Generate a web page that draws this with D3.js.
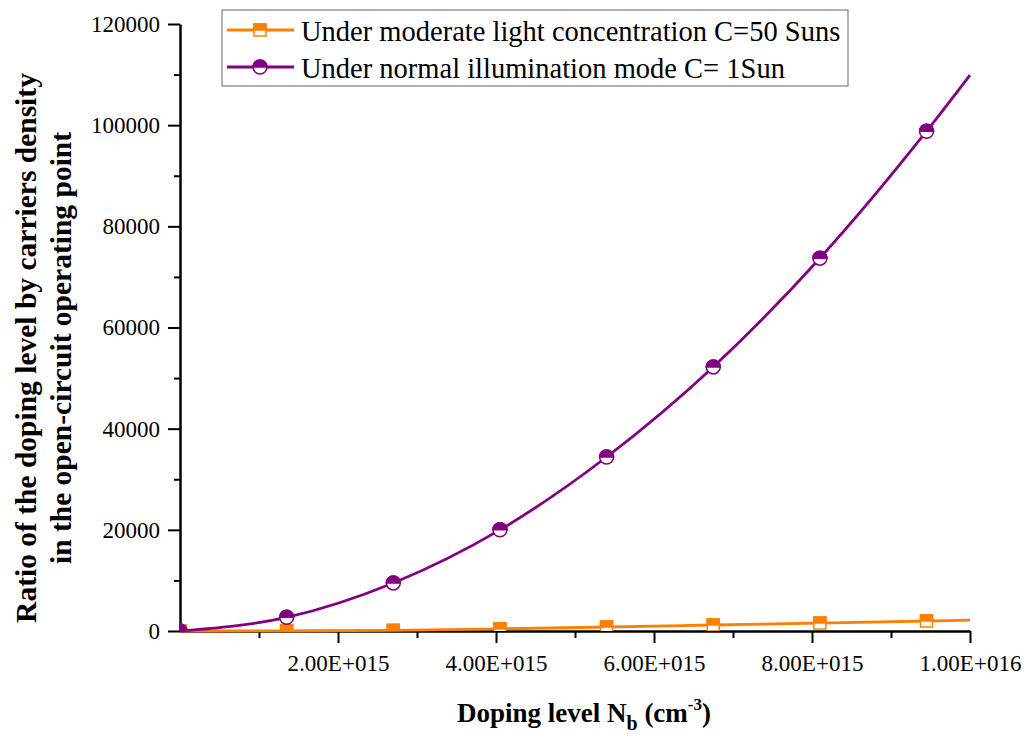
<!DOCTYPE html>
<html>
<head>
<meta charset="utf-8">
<script src="https://cdn.jsdelivr.net/npm/d3@7"></script>
<style>
  body { margin: 0; background: #fff; }
</style>
</head>
<body>
<div id="chart"></div>
<script>
// Doping level values (cm^-3) where the curves were read
const dopingLevels = [0, 1.35e15, 2.7e15, 4.05e15, 5.4e15, 6.75e15, 8.1e15, 9.45e15, 1.0e16];
// Ratio under normal illumination C = 1 Sun
const ratioOneSun = [0, 2700, 9500, 20000, 34400, 52200, 73700, 98800, 109900];
// Ratio under light concentration C = 50 Suns
const ratioFiftySuns = [0, 40, 130, 420, 790, 1190, 1580, 1980, 2150];
// markers sit on the first 8 read points (the last one is the curve end)
const markerCount = 8;

const xTicks = [2e15, 4e15, 6e15, 8e15, 1e16];
const xTickLabels = ["2.00E+015", "4.00E+015", "6.00E+015", "8.00E+015", "1.00E+016"];
const yTicks = [0, 20000, 40000, 60000, 80000, 100000, 120000];

const seriesNames = [
  "Under moderate light concentration C=50 Suns",
  "Under normal illumination mode C= 1Sun",
];
const orange = "#ff8000";
const purple = "#800080";
const serif = "Liberation Serif";

const width = 1034;
const height = 743;
const margin = { top: 24, right: 64, bottom: 112, left: 180 };
const innerW = width - margin.left - margin.right;
const innerH = height - margin.top - margin.bottom;

const svg = d3
  .select("#chart")
  .append("svg")
  .attr("width", width)
  .attr("height", height);

const g = svg.append("g").attr("transform", `translate(${margin.left},${margin.top})`);

svg.append("defs").append("clipPath").attr("id", "plot-clip")
  .append("rect").attr("x", 0).attr("y", -10).attr("width", innerW + 10).attr("height", innerH + 10);

const x = d3.scaleLinear().domain([0, 1e16]).range([0, innerW]);
const y = d3.scaleLinear().domain([0, 120000]).range([innerH, 0]);

// minor ticks
g.append("g")
  .attr("transform", `translate(0,${innerH})`)
  .call(d3.axisBottom(x).tickValues(d3.range(1, 10, 2).map((d) => d * 1e15)).tickSize(7).tickFormat(""))
  .call((a) => a.select(".domain").remove())
  .selectAll("line").attr("stroke-width", 2);

g.append("g")
  .call(d3.axisLeft(y).tickValues(d3.range(1, 12, 2).map((d) => d * 10000)).tickSize(6).tickFormat(""))
  .call((a) => a.select(".domain").remove())
  .selectAll("line").attr("stroke-width", 2);

// major axes
const xAxis = g
  .append("g")
  .attr("transform", `translate(0,${innerH})`)
  .call(d3.axisBottom(x).tickValues(xTicks).tickSize(12).tickSizeOuter(0).tickPadding(12)
    .tickFormat((d, i) => xTickLabels[i]));
xAxis.select(".domain").attr("stroke-width", 2.5);
xAxis.selectAll("line").attr("stroke-width", 2);
xAxis.selectAll("text")
  .style("font-family", serif).style("font-size", "23px").attr("fill", "#000");

const yAxis = g
  .append("g")
  .call(d3.axisLeft(y).tickValues(yTicks).tickSize(12).tickSizeOuter(0).tickPadding(8)
    .tickFormat(d3.format("d")));
yAxis.select(".domain").attr("stroke-width", 2.5);
yAxis.selectAll("line").attr("stroke-width", 2);
yAxis.selectAll("text")
  .style("font-family", serif).style("font-size", "23px").attr("fill", "#000");

// lines
const series = [
  { name: seriesNames[0], values: ratioFiftySuns, color: orange, shape: "square" },
  { name: seriesNames[1], values: ratioOneSun, color: purple, shape: "circle" },
];

const line = d3
  .line()
  .x((d) => x(d[0]))
  .y((d) => y(d[1]))
  .curve(d3.curveMonotoneX);

series.forEach((s) => {
  const pts = dopingLevels.map((d, i) => [d, s.values[i]]);
  g.append("path")
    .datum(pts)
    .attr("fill", "none")
    .attr("stroke", s.color)
    .attr("stroke-width", 2.8)
    .attr("d", line);
});

// half filled markers (top half solid, bottom half white)
function drawMarker(sel, shape, color, cx, cy, size) {
  const r = size / 2;
  if (shape === "square") {
    sel.append("rect")
      .attr("x", cx - r).attr("y", cy - r).attr("width", size).attr("height", size)
      .attr("fill", "#fff").attr("stroke", color).attr("stroke-width", 1.5);
    sel.append("rect")
      .attr("x", cx - r).attr("y", cy - r).attr("width", size).attr("height", r)
      .attr("fill", color).attr("stroke", color).attr("stroke-width", 1.5);
  } else {
    sel.append("circle")
      .attr("cx", cx).attr("cy", cy).attr("r", r)
      .attr("fill", "#fff").attr("stroke", color).attr("stroke-width", 1.5);
    sel.append("path")
      .attr("d", `M${cx - r},${cy} A${r},${r} 0 0 1 ${cx + r},${cy} Z`)
      .attr("fill", color).attr("stroke", color).attr("stroke-width", 1.5);
  }
}

series.forEach((s) => {
  const mg = g.append("g").attr("clip-path", "url(#plot-clip)");
  for (let i = 0; i < markerCount; i++) {
    drawMarker(mg, s.shape, s.color, x(dopingLevels[i]), y(s.values[i]), s.shape === "square" ? 12 : 14);
  }
});

// legend
const legend = svg.append("g");
legend.append("rect")
  .attr("x", 222).attr("y", 10).attr("width", 626).attr("height", 76)
  .attr("fill", "#fff").attr("stroke", "#666").attr("stroke-width", 1);

series.forEach((s, i) => {
  const ly = 30 + i * 37;
  legend.append("line")
    .attr("x1", 227).attr("x2", 294).attr("y1", ly).attr("y2", ly)
    .attr("stroke", s.color).attr("stroke-width", 2.8);
  drawMarker(legend, s.shape, s.color, 260, ly, s.shape === "square" ? 12 : 14);
  legend.append("text")
    .attr("x", 301).attr("y", ly + 11)
    .style("font-family", serif)
    .style("font-size", "28.5px")
    .text(s.name);
});

// axis titles
const yTitle = svg.append("text")
  .attr("transform", "translate(0,348) rotate(-90)")
  .attr("text-anchor", "middle")
  .style("font-family", serif)
  .style("font-size", "29.5px")
  .style("font-weight", "bold");
yTitle.append("tspan").attr("x", 0).attr("y", 36).text("Ratio of the doping level by carriers density");
yTitle.append("tspan").attr("x", 0).attr("y", 71).text("in the open-circuit operating point");

const xTitle = svg.append("text")
  .attr("x", 584).attr("y", 722)
  .attr("text-anchor", "middle")
  .style("font-family", serif)
  .style("font-size", "27px")
  .style("font-weight", "bold");
xTitle.append("tspan").text("Doping level N");
xTitle.append("tspan").attr("dy", 8).style("font-size", "20px").text("b");
xTitle.append("tspan").attr("dy", -8).text(" (cm");
xTitle.append("tspan").attr("dy", -12).style("font-size", "17px").text("-3");
xTitle.append("tspan").attr("dy", 12).text(")");
</script>
</body>
</html>
